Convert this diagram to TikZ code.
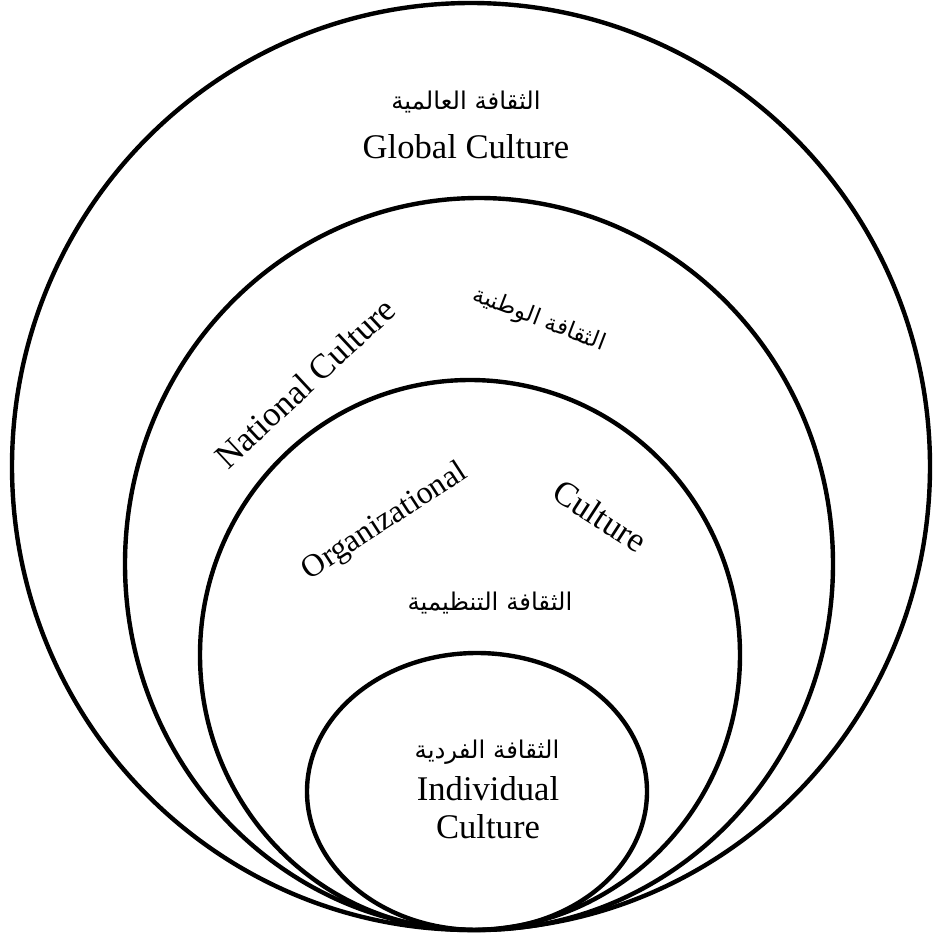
\documentclass[tikz,border=0pt]{standalone}
\usepackage{fontspec}
\setmainfont{Liberation Serif}
\newfontfamily\arabicfont[Script=Arabic]{DejaVu Sans}
\TeXXeTstate=1
\usetikzlibrary{positioning}

\begin{document}
\begin{tikzpicture}[x=0.5pt, y=-0.5pt, line width=2.2pt, font=\fontsize{17.3}{20}\selectfont]
  \useasboundingbox (0,0) rectangle (933,938);
  % Nested cultures
  \draw (471,466.5) ellipse [x radius=459, y radius=463.5];
  \draw (479,564) ellipse [x radius=354, y radius=366];
  \draw (470,655) ellipse [x radius=270, y radius=275];
  \draw (477,791.5) ellipse [x radius=170, y radius=138.5];
  % Global
  \node (globalAr) at (466,102) {\arabicfont\fontsize{12.2}{14}\selectfont\beginR الثقافة العالمية\endR};
  \node (globalEn) at (466,147) {Global Culture};
  % National
  \node[rotate=43] (nationalEn) at (305,383) {National Culture};
  \node[rotate=-21] (nationalAr) at (539,320) {\arabicfont\fontsize{11.5}{13}\selectfont\beginR الثقافة الوطنية\endR};
  % Organizational
  \node[rotate=33] (orgEn) at (385,522) {\fontsize{16}{18}\selectfont Organizational};
  \node[rotate=-33] (orgCult) at (600,516) {Culture};
  \node (orgAr) at (490,603) {\arabicfont\fontsize{12.2}{14}\selectfont\beginR الثقافة التنظيمية\endR};
  % Individual
  \node (indivAr) at (487,752) {\arabicfont\fontsize{12.2}{14}\selectfont\beginR الثقافة الفردية\endR};
  \node (indivEn) at (488,789) {Individual};
  \node (indivCult) at (488,827) {Culture};
\end{tikzpicture}
\end{document}
